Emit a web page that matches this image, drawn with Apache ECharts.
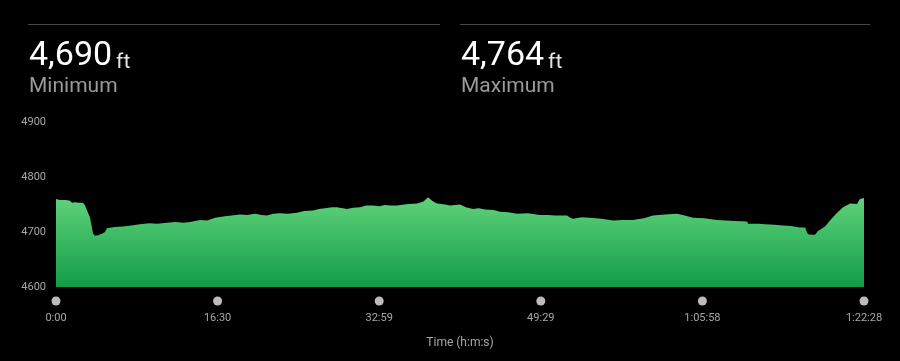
<!DOCTYPE html>
<html>
<head>
<meta charset="utf-8">
<script src="https://cdn.jsdelivr.net/npm/echarts@6/dist/echarts.min.js"></script>
<style>
html,body{margin:0;padding:0;background:#000;}
#chart{width:900px;height:361px;}
</style>
</head>
<body>
<div id="chart"></div>
<script>
// Elapsed time (seconds) of each sample
var times = [0,24,61,86,98,116,140,165,178,196,208,227,239,257,269,282,288,300,312,361,410,460,514,570,619,680,729,780,821,882,925,974,1023,1075,1127,1170,1219,1260,1292,1330,1372,1420,1476,1520,1574,1610,1647,1690,1721,1782,1820,1862,1900,1941,1980,2015,2050,2088,2130,2168,2211,2247,2265,2278,2290,2303,2333,2382,2413,2474,2510,2554,2590,2627,2680,2719,2770,2823,2890,2964,3010,3056,3129,3150,3166,3220,3270,3340,3411,3470,3533,3600,3656,3729,3803,3850,3901,3970,4048,4100,4158,4232,4238,4300,4342,4400,4452,4500,4556,4587,4598,4605,4630,4648,4666,4709,4740,4783,4820,4863,4905,4923,4948];
// Elevation (ft) of each sample
var elevation = [4760,4758,4758,4757,4753,4754,4753,4753,4748,4735,4727,4697,4693,4694,4692,4697,4696,4700,4707,4709,4710,4712,4714,4716,4715,4717,4718,4717,4718,4722,4721,4726,4728,4730,4732,4731,4733,4731,4730,4733,4734,4733,4735,4738,4739,4742,4743,4745,4745,4742,4744,4745,4748,4748,4747,4749,4748,4748,4750,4751,4752,4755,4759,4763,4760,4757,4752,4750,4748,4750,4745,4742,4743,4741,4740,4737,4736,4733,4734,4731,4731,4730,4730,4726,4724,4727,4726,4724,4721,4722,4722,4725,4730,4732,4733,4730,4726,4725,4722,4721,4720,4719,4715,4715,4714,4713,4712,4711,4708,4708,4700,4696,4695,4695,4702,4710,4721,4735,4745,4752,4751,4760,4762];
// Header figures
var headerValues = ['4,690', '4,764'];
var headerUnit = 'ft';
var headerLabels = ['Minimum', 'Maximum'];
// Axis tick labels
var xTickLabels = ['0:00','16:30','32:59','49:29','1:05:58','1:22:28'];
var totalSeconds = 4948;
var yTicks = [4600, 4700, 4800, 4900];
var xAxisName = 'Time (h:m:s)';

var FONT = 'Roboto, "Liberation Sans", sans-serif';
var chart = echarts.init(document.getElementById('chart'), null, {renderer:'canvas'});
var seriesData = times.map(function(t,i){ return [t, elevation[i]]; });
var xInterval = totalSeconds / (xTickLabels.length - 1);

function headerTitle(i, left){
  return {
    text: '{v|' + headerValues[i] + '}{g| }{u|' + headerUnit + '}',
    subtext: headerLabels[i],
    left: left, top: 30,
    itemGap: 7,
    textStyle: {
      fontFamily: FONT, fontWeight: 'normal',
      rich: {
        v: {fontSize: 34, color: '#ffffff', fontFamily: FONT, fontWeight: 'normal', lineHeight: 38, verticalAlign: 'bottom'},
        g: {fontSize: 16, fontFamily: FONT, lineHeight: 38, verticalAlign: 'bottom'},
        u: {fontSize: 21, color: '#e6e6e6', fontFamily: FONT, fontWeight: 'normal', lineHeight: 31, verticalAlign: 'bottom'}
      }
    },
    subtextStyle: {fontSize: 21, color: '#9a9a9a', fontFamily: FONT, fontWeight: 'normal'}
  };
}

chart.setOption({
  backgroundColor: '#000',
  animation: false,
  title: [headerTitle(0, 24), headerTitle(1, 456)],
  graphic: [
    {type:'line', shape:{x1:28, y1:24.5, x2:440, y2:24.5}, style:{stroke:'#4a4a4a', lineWidth:1}},
    {type:'line', shape:{x1:460, y1:24.5, x2:870, y2:24.5}, style:{stroke:'#4a4a4a', lineWidth:1}}
  ],
  grid: {left: 56, right: 36, top: 122, bottom: 74, containLabel: false},
  xAxis: {
    type: 'value', min: 0, max: totalSeconds, interval: xInterval,
    axisLine: {show: false}, axisTick: {show: false}, splitLine: {show: false},
    name: xAxisName, nameLocation: 'middle', nameGap: 50,
    nameTextStyle: {color: '#a8a8a8', fontSize: 12, fontFamily: FONT},
    axisLabel: {
      margin: 8, showMinLabel: true, showMaxLabel: true,
      formatter: function(v){
        var idx = Math.round(v / xInterval);
        return '{d|}\n{t|' + xTickLabels[idx] + '}';
      },
      rich: {
        d: {width: 9, height: 9, borderRadius: 4.5, backgroundColor: '#bcbcbc', lineHeight: 12, align:'center'},
        t: {fontSize: 11, color: '#a8a8a8', fontFamily: FONT, lineHeight: 22, align:'center'}
      }
    }
  },
  yAxis: {
    type: 'value', min: yTicks[0], max: yTicks[yTicks.length-1], interval: 100,
    axisLine: {show: false}, axisTick: {show: false}, splitLine: {show: false},
    axisLabel: {color: '#a8a8a8', fontSize: 11, fontFamily: FONT, margin: 10,
      formatter: function(v){ return String(v); }}
  },
  series: [{
    type: 'line', data: seriesData, symbol: 'none', smooth: false,
    lineStyle: {width: 0},
    areaStyle: {
      opacity: 1,
      color: new echarts.graphic.LinearGradient(0, 0, 0, 1, [
        {offset: 0, color: '#5fd27b'},
        {offset: 1, color: '#139c47'}
      ])
    }
  }]
});
</script>
</body>
</html>
